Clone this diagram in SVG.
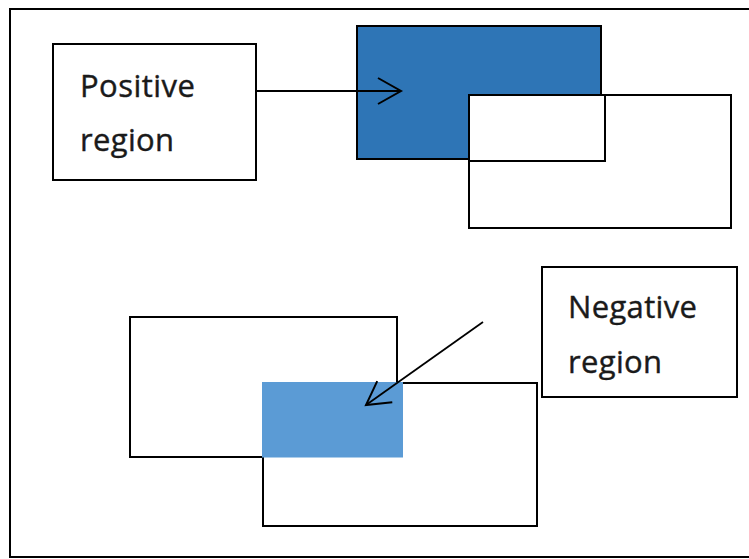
<svg xmlns="http://www.w3.org/2000/svg" width="749" height="559" viewBox="0 0 749 559">
<defs>
<style>
.box{fill:#fff;stroke:#000;stroke-width:2}
.lbl{font-family:"Open Sans","DejaVu Sans",sans-serif;font-size:31px;fill:#1a1a1a;stroke:#1a1a1a;stroke-width:0.4}
.conn{stroke:#000;stroke-width:1.8;fill:none}
</style>
<marker id="open" markerWidth="30" markerHeight="32" viewBox="-26 -16 28 32" refX="0" refY="0" orient="auto" markerUnits="userSpaceOnUse">
<path d="M-23,-13 L0,0 L-23,13" fill="none" stroke="#000" stroke-width="2"/>
</marker>
</defs>
<rect x="0" y="0" width="749" height="559" fill="#fff"/>
<rect id="frame" x="10" y="9" width="745" height="548" fill="none" stroke="#000" stroke-width="2"/>
<g id="top-regions">
<rect x="357" y="26" width="244" height="133" fill="#2E75B6" stroke="#000" stroke-width="2"/>
<rect class="box" x="469" y="95" width="262" height="133"/>
<rect class="box" x="469" y="95" width="136" height="66"/>
</g>
<g id="bottom-regions">
<rect class="box" x="130" y="317" width="267" height="140"/>
<rect class="box" x="263" y="383" width="274" height="143"/>
<rect x="262" y="382" width="141" height="75.5" fill="#5B9BD5"/>
</g>
<g id="positive">
<rect class="box" x="53" y="44" width="203" height="136"/>
<text class="lbl" x="80" y="97" textLength="115">Positive</text>
<text class="lbl" x="80" y="151" textLength="94">region</text>
</g>
<g id="negative">
<rect class="box" x="542" y="267" width="195" height="130"/>
<text class="lbl" x="568" y="318" textLength="129">Negative</text>
<text class="lbl" x="568" y="373" textLength="94">region</text>
</g>
<g id="connectors">
<line class="conn" x1="256" y1="91" x2="401" y2="91" marker-end="url(#open)"/>
<line class="conn" x1="483" y1="322" x2="366" y2="405" marker-end="url(#open)"/>
</g>
</svg>
